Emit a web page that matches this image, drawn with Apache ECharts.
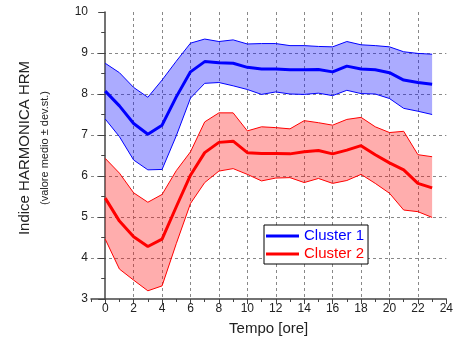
<!DOCTYPE html>
<html>
<head>
<meta charset="utf-8">
<script src="https://cdn.jsdelivr.net/npm/echarts@6/dist/echarts.min.js"></script>
<style>
  html, body { margin: 0; padding: 0; background: #fff; }
  #chart { width: 456px; height: 347px; }
</style>
</head>
<body>
<div id="chart"></div>
<script>
// ore del giorno
const hours = [0,1,2,3,4,5,6,7,8,9,10,11,12,13,14,15,16,17,18,19,20,21,22,23]
const xTicks = [0,2,4,6,8,10,12,14,16,18,20,22,24]

// Cluster 1: media, media+ds, media-ds
const c1Mean  = [8.07,7.71,7.28,7.02,7.24,7.93,8.54,8.79,8.76,8.75,8.65,8.61,8.61,8.59,8.59,8.60,8.54,8.68,8.61,8.59,8.52,8.34,8.28,8.24]
const c1Upper = [8.75,8.52,8.16,7.92,8.34,8.80,9.24,9.34,9.28,9.32,9.22,9.23,9.23,9.18,9.18,9.16,9.15,9.28,9.20,9.18,9.15,9.03,8.99,8.97]
const c1Lower = [7.39,6.96,6.39,6.15,6.16,6.98,7.90,8.26,8.28,8.20,8.11,7.99,8.05,8.00,7.99,8.02,7.96,8.09,8.01,8.00,7.89,7.65,7.58,7.50]

// Cluster 2
const c2Mean  = [5.46,4.90,4.52,4.28,4.46,5.25,6.02,6.57,6.82,6.85,6.57,6.55,6.55,6.54,6.59,6.62,6.54,6.63,6.74,6.52,6.32,6.15,5.82,5.71]
const c2Upper = [6.43,6.07,5.59,5.36,5.55,6.13,6.59,7.32,7.54,7.54,7.10,7.20,7.18,7.15,7.35,7.30,7.24,7.38,7.43,7.20,7.06,7.09,6.52,6.47]
const c2Lower = [4.46,3.73,3.46,3.20,3.32,4.35,5.33,5.84,6.12,6.18,6.04,5.88,5.95,5.96,5.84,5.94,5.82,5.89,6.04,5.82,5.58,5.17,5.13,4.99]

const FONT = '"Liberation Sans", Arial, sans-serif'

function pairs(arr) {
  return hours.map((h, i) => [h, arr[i]])
}

// banda media ± ds come poligono (custom series)
function band(lower, upper, color, fill) {
  return {
    type: 'custom', silent: true, z: 2,
    data: pairs(upper),
    renderItem: function (params, api) {
      if (params.dataIndex !== 0) return
      let top = hours.map((h, i) => api.coord([h, upper[i]]))
      let bot = hours.map((h, i) => api.coord([h, lower[i]]))
      return {
        type: 'group',
        children: [
          {
            type: 'polygon',
            shape: { points: top.concat(bot.slice().reverse()) },
            style: { fill: fill, stroke: 'none' }
          },
          { type: 'polyline', shape: { points: top }, style: { fill: 'none', stroke: color, lineWidth: 1 } },
          { type: 'polyline', shape: { points: bot }, style: { fill: 'none', stroke: color, lineWidth: 1 } }
        ]
      }
    }
  }
}

const myChart = echarts.init(document.getElementById('chart'))

const option = {
  animation: false,
  grid: { left: 91, right: 7, top: 12, bottom: 48 },
  xAxis: [
    {
      type: 'value', min: -1, max: 24,
      axisLine: { lineStyle: { color: '#444', width: 1.5 } },
      axisTick: { customValues: xTicks, length: 5, lineStyle: { color: '#444' } },
      axisLabel: { customValues: xTicks, color: '#222', fontSize: 12, fontFamily: FONT, margin: 4 },
      splitLine: { show: true, showMaxLine: false, showMinLine: false, lineStyle: { color: '#888', type: [3, 3] } },
      name: 'Tempo [ore]', nameLocation: 'middle', nameGap: 22,
      nameTextStyle: { color: '#222', fontSize: 15, fontFamily: FONT }
    },
    {
      type: 'value', min: -1, max: 24, interval: 1, position: 'bottom',
      axisLine: { show: false },
      axisTick: { length: 3, lineStyle: { color: '#444' } },
      axisLabel: { show: false },
      splitLine: { show: false }
    }
  ],
  yAxis: {
    type: 'value', min: 3, max: 10, interval: 1,
    axisLine: { show: true, lineStyle: { color: '#444', width: 1.5 } },
    axisTick: { show: true, length: 7, lineStyle: { color: '#444' } },
    minorTick: { show: true, splitNumber: 2, length: 4, lineStyle: { color: '#444' } },
    axisLabel: { color: '#222', fontSize: 12, fontFamily: FONT, margin: 3 },
    splitLine: { show: true, showMaxLine: false, showMinLine: false, lineStyle: { color: '#888', type: [3, 3] } }
  },
  legend: {
    orient: 'vertical', left: 264, top: 225,
    backgroundColor: '#fff', borderColor: '#000', borderWidth: 1,
    padding: [2, 4, 1, 2], itemGap: 0,
    itemWidth: 33, itemHeight: 3,
    data: [
      { name: 'Cluster 1', icon: 'rect', textStyle: { color: '#0000ff' } },
      { name: 'Cluster 2', icon: 'rect', textStyle: { color: '#ff0000' } }
    ],
    textStyle: { fontSize: 15, fontFamily: FONT, lineHeight: 18 }
  },
  graphic: [
    {
      type: 'text', x: 25, y: 148, rotation: Math.PI / 2,
      style: { text: 'Indice HARMONICA HRM', font: '15px ' + FONT, fill: '#222', align: 'center', verticalAlign: 'middle' }
    },
    {
      type: 'text', x: 45, y: 148, rotation: Math.PI / 2,
      style: { text: '(valore medio \u00b1 dev.st.)', font: '11px ' + FONT, fill: '#222', align: 'center', verticalAlign: 'middle' }
    }
  ],
  series: [
    band(c1Lower, c1Upper, '#0000ff', 'rgba(0,0,255,0.33)'),
    band(c2Lower, c2Upper, '#ff0000', 'rgba(255,0,0,0.32)'),
    {
      name: 'Cluster 1', type: 'line', data: pairs(c1Mean), showSymbol: false, z: 3,
      itemStyle: { color: '#0000ff' }, lineStyle: { color: '#0000ff', width: 3 }
    },
    {
      name: 'Cluster 2', type: 'line', data: pairs(c2Mean), showSymbol: false, z: 3,
      itemStyle: { color: '#ff0000' }, lineStyle: { color: '#ff0000', width: 3 }
    }
  ]
}

myChart.setOption(option)
</script>
</body>
</html>
